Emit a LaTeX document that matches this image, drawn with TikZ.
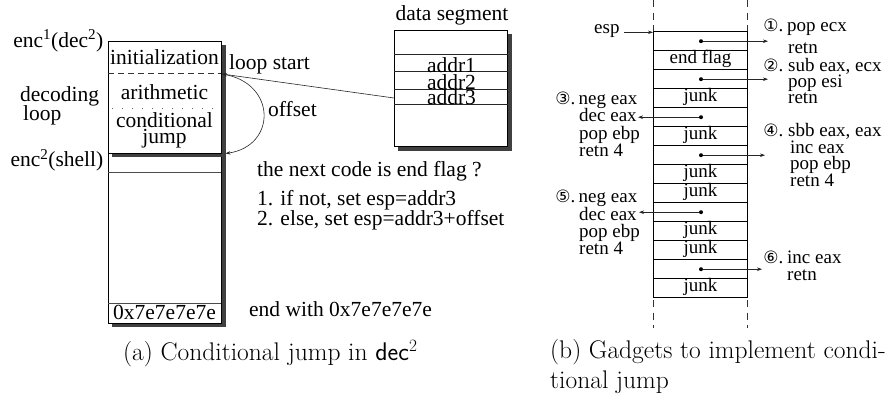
\documentclass[tikz,border=0pt]{standalone}
\usepackage{fontspec}
\usetikzlibrary{arrows.meta}
\newfontfamily\dfont{Liberation Serif}
\newfontfamily\symfont{DejaVu Sans}
\newcommand{\cdig}[1]{{\symfont\fontsize{17}{17}\selectfont #1}.}
\begin{document}
\begin{tikzpicture}[x=1pt,y=-1pt,
  lt/.style={font=\dfont\fontsize{21.5}{24}\selectfont, inner sep=0pt},
  rt/.style={font=\dfont\fontsize{19}{22}\selectfont, inner sep=0pt},
  captxt/.style={font=\fontsize{25.5}{30}\selectfont, inner sep=0pt},
  shadowfill/.style={fill=black!75, draw=none},
  boxline/.style={draw=black, line width=0.8pt, fill=white},
  cellline/.style={draw=black!70, line width=0.8pt},
  tip/.style={-{Stealth[length=5pt,width=3.5pt]}, line width=0.6pt, draw=black!85},
  dotmark/.style={circle, fill=black, inner sep=0pt, minimum size=4pt},
  vdash/.style={draw=black!80, line width=0.7pt, dash pattern=on 7pt off 5.5pt},
]
\useasboundingbox (0,0) rectangle (896,399);
\fill[white] (0,0) rectangle (896,399);

% ---------- (a) ----------
\fill[shadowfill] (112,157) rectangle (225.5,327);
\draw[boxline] (108,153) rectangle (221,323);
\draw[cellline] (108,172) -- (221,172);
\draw[cellline] (108,303) -- (221,303);
\fill[shadowfill] (112,45) rectangle (225.5,157);
\draw[boxline] (108,41) rectangle (221,153);
\draw[black!80, line width=0.7pt, dash pattern=on 6pt off 4pt] (108,73) -- (221,73);
\draw[black!60, line width=0.8pt, dash pattern=on 0.8pt off 9.2pt] (112,108) -- (221,108);

\node[lt, anchor=base] (init) at (164.5,64) {initialization};
\node[lt, anchor=base] (arith) at (164.5,99) {arithmetic};
\node[lt, anchor=base] (cond) at (164.5,127.7) {conditional};
\node[lt, anchor=base] (jump) at (164.5,143.3) {jump};
\node[lt, anchor=base] (hex) at (164.5,319.3) {0x7e7e7e7e};

\node[lt, anchor=base east] (enc1) at (103.5,47.5) {enc\textsuperscript{1}(dec\textsuperscript{2})};
\node[lt, anchor=base west] (decl) at (20,101.7) {decoding};
\node[lt, anchor=base west] (loopl) at (23,120) {loop};
\node[lt, anchor=base east] (enc2) at (103.5,166.7) {enc\textsuperscript{2}(shell)};

\node[lt, anchor=base west] (lstart) at (229,69.5) {loop start};
\node[lt, anchor=base west] (offs) at (268,116.7) {offset};

% data segment
\fill[shadowfill] (398,34) rectangle (511.7,150.7);
\draw[boxline] (394,30) rectangle (507.7,146.7);
\foreach \yy in {54,71.5,89,104} \draw[black!85, line width=0.8pt] (394,\yy) -- (507.7,\yy);
\node[lt, anchor=base] (dseg) at (452,20.7) {data segment};
\node[lt, anchor=base] (a1) at (451.5,72) {addr1};
\node[lt, anchor=base] (a2) at (451.5,89.5) {addr2};
\node[lt, anchor=base] (a3) at (451.5,104.5) {addr3};

\coordinate (ls) at (222,74);
\coordinate (je) at (225.5,153.5);
\coordinate (dsl) at (394,98);
\draw[tip] (dsl) -- (ls);
\draw[tip] (ls) .. controls (277,82) and (277,146) .. (je);

\node[lt, anchor=base west] (q) at (257,176.7) {the next code is end flag ?};
\node[lt, anchor=base west] (c1) at (257,205) {1. if not, set esp=addr3};
\node[lt, anchor=base west] (c2) at (257,225) {2. else, set esp=addr3+offset};
\node[lt, anchor=base west] (ew) at (249,316.7) {end with 0x7e7e7e7e};

\node[captxt, anchor=base west] (capa) at (123,360.5) {(a) Conditional jump in \textsf{dec}$^2$};

% ---------- (b) ----------
\draw[vdash] (653,0) -- (653,31.7);
\draw[vdash] (747.7,0) -- (747.7,31.7);
\draw[vdash] (653,300) -- (653,328);
\draw[vdash] (747.7,300) -- (747.7,328);
\draw[black, line width=0.8pt] (653,31.7) rectangle (747.7,297.7);
\foreach \i in {1,...,13} \draw[black, line width=0.8pt] (653,31.7+19*\i) -- (747.7,31.7+19*\i);

\node[rt, anchor=base] (ef) at (700.5,63.4) {end flag};
\foreach \r/\nm in {4/j4,6/j6,8/j8,9/j9,11/j11,12/j12,14/j14}
  \node[rt, anchor=base] (\nm) at (700.5,31.7+19*\r-6.3) {junk};

\node[dotmark] (d1) at (701,41.2) {};
\node[dotmark] (d2) at (701,79.2) {};
\node[dotmark] (d3) at (701,117.2) {};
\node[dotmark] (d4) at (701,155.2) {};
\node[dotmark] (d5) at (701,212.2) {};
\node[dotmark] (d6) at (701,269.2) {};
\coordinate (t1) at (768,41.2);
\coordinate (t2) at (768,79.2);
\coordinate (t3) at (638,117.2);
\coordinate (t4) at (765,155.2);
\coordinate (t5) at (639,212.2);
\coordinate (t6) at (762,269.2);
\foreach \a/\b in {d1/t1,d2/t2,d3/t3,d4/t4,d5/t5,d6/t6} \draw[tip] (\a) -- (\b);

\node[rt, anchor=base west] (esp) at (594,33.3) {esp};
\coordinate (esps) at (624,32.3);
\coordinate (colTL) at (653,32.3);
\draw[tip] (esps) -- (colTL);

% gadget 1
\node[rt, anchor=base east] (n1) at (783.5,31.7) {\cdig{①}};
\node[rt, anchor=base west] (g1a) at (787,31.7) {pop ecx};
\node[rt, anchor=base west] (g1b) at (788,53.3) {retn};
% gadget 2
\node[rt, anchor=base east] (n2) at (783.5,71.7) {\cdig{②}};
\node[rt, anchor=base west] (g2a) at (788,71.7) {sub eax, ecx};
\node[rt, anchor=base west] (g2b) at (788,87) {pop esi};
\node[rt, anchor=base west] (g2c) at (788,103.3) {retn};
% gadget 3
\node[rt, anchor=base east] (n3) at (575.5,104) {\cdig{③}};
\node[rt, anchor=base west] (g3a) at (578.5,104) {neg eax};
\node[rt, anchor=base west] (g3b) at (579,121.5) {dec eax};
\node[rt, anchor=base west] (g3c) at (579,139) {pop ebp};
\node[rt, anchor=base west] (g3d) at (579,156.5) {retn 4};
% gadget 4
\node[rt, anchor=base east] (n4) at (783.5,136.7) {\cdig{④}};
\node[rt, anchor=base west] (g4a) at (788,136.7) {sbb eax, eax};
\node[rt, anchor=base west] (g4b) at (790,153) {inc eax};
\node[rt, anchor=base west] (g4c) at (790,169.5) {pop ebp};
\node[rt, anchor=base west] (g4d) at (790,186.7) {retn 4};
% gadget 5
\node[rt, anchor=base east] (n5) at (575.5,202.7) {\cdig{⑤}};
\node[rt, anchor=base west] (g5a) at (578.5,202.7) {neg eax};
\node[rt, anchor=base west] (g5b) at (579,220) {dec eax};
\node[rt, anchor=base west] (g5c) at (579,237) {pop ebp};
\node[rt, anchor=base west] (g5d) at (579,254) {retn 4};
% gadget 6
\node[rt, anchor=base east] (n6) at (783.5,263.3) {\cdig{⑥}};
\node[rt, anchor=base west] (g6a) at (787,263.3) {inc eax};
\node[rt, anchor=base west] (g6b) at (787,280) {retn};

\node[captxt, anchor=base west] (capb1) at (550,358.5) {(b) Gadgets to implement condi-};
\node[captxt, anchor=base west] (capb2) at (550,388.5) {tional jump};
\end{tikzpicture}
\end{document}
